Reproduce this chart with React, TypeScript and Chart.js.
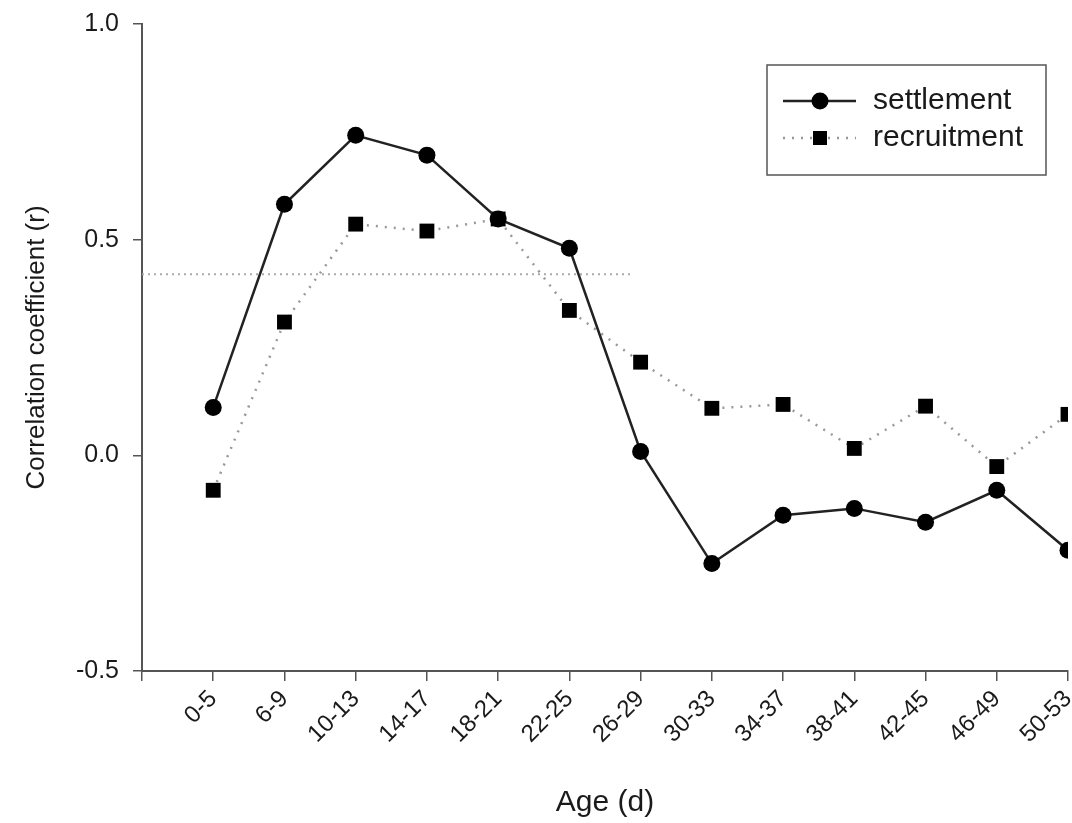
import React, { useEffect, useRef } from "react";
import { Chart, registerables } from "chart.js";

Chart.register(...registerables);

const ageClasses = ["0-5", "6-9", "10-13", "14-17", "18-21", "22-25", "26-29", "30-33", "34-37", "38-41", "42-45", "46-49", "50-53"];
const settlement = [0.111, 0.582, 0.742, 0.696, 0.548, 0.48, 0.009, -0.251, -0.139, -0.123, -0.155, -0.081, -0.22];
const recruitment = [-0.081, 0.309, 0.536, 0.52, 0.548, 0.336, 0.216, 0.109, 0.118, 0.016, 0.114, -0.026, 0.095];
const yTickValues = [-0.5, 0.0, 0.5, 1.0];
const refLevel = 0.42;
const refSpan = [-1, 5.9];

const FONT = '"Liberation Sans", Arial, Helvetica, sans-serif';
const TEXT = "#1a1a1a";
const AXIS = "#555";

const legendPlugin = {
  id: "boxLegend",
  afterDraw(chart: any) {
    const ctx = chart.ctx;
    const a = chart.chartArea;
    const x0 = a.right - 301;
    const y0 = a.top + 41;
    const w = 279;
    const h = 110;
    ctx.save();
    ctx.strokeStyle = AXIS;
    ctx.lineWidth = 1.5;
    ctx.strokeRect(x0, y0, w, h);
    [0, 1].forEach((i) => {
      const ds = chart.data.datasets[i];
      const y = y0 + 36 + i * 37;
      ctx.beginPath();
      ctx.setLineDash(ds.borderDash || []);
      ctx.strokeStyle = ds.borderColor;
      ctx.lineWidth = ds.borderWidth;
      ctx.moveTo(x0 + 16, y);
      ctx.lineTo(x0 + 89, y);
      ctx.stroke();
      ctx.setLineDash([]);
      ctx.fillStyle = ds.pointBackgroundColor;
      if (ds.pointStyle === "rect") {
        const s = 7;
        ctx.fillRect(x0 + 53 - s, y - s, 2 * s, 2 * s);
      } else {
        ctx.beginPath();
        ctx.arc(x0 + 53, y, 8.5, 0, Math.PI * 2);
        ctx.fill();
      }
      ctx.fillStyle = TEXT;
      ctx.font = "30px " + FONT;
      ctx.textBaseline = "middle";
      ctx.textAlign = "left";
      ctx.fillText(ds.label, x0 + 106, y);
    });
    ctx.restore();
  },
};

export default function App() {
  const ref = useRef<HTMLCanvasElement>(null);

  useEffect(() => {
    if (!ref.current) return;
    const chart = new Chart(ref.current, {
      type: "line",
      data: {
        datasets: [
          {
            label: "settlement",
            data: settlement.map((v, i) => ({ x: i, y: v })),
            borderColor: "#222",
            borderWidth: 2.5,
            pointStyle: "circle",
            pointRadius: 8.5,
            pointBackgroundColor: "#000",
            pointBorderColor: "#000",
            pointBorderWidth: 0,
            tension: 0,
          },
          {
            label: "recruitment",
            data: recruitment.map((v, i) => ({ x: i, y: v })),
            borderColor: "#999",
            borderWidth: 2.5,
            borderDash: [2, 7],
            pointStyle: "rect",
            pointRadius: 10.5,
            pointBackgroundColor: "#000",
            pointBorderColor: "#000",
            pointBorderWidth: 0,
            tension: 0,
          },
          {
            label: "ref",
            data: refSpan.map((x) => ({ x, y: refLevel })),
            borderColor: "#aaa",
            borderWidth: 2,
            borderDash: [2, 4],
            pointRadius: 0,
            tension: 0,
          },
        ],
      } as any,
      options: {
        animation: false,
        responsive: false,
        events: [],
        layout: { autoPadding: false, padding: { left: 0, top: 24, right: 4, bottom: 0 } },
        plugins: {
          legend: { display: false },
          tooltip: { enabled: false },
        },
        scales: {
          x: {
            type: "linear",
            min: -1,
            max: ageClasses.length - 1,
            afterBuildTicks: (scale: any) => {
              scale.ticks = [-1, ...ageClasses.map((_, i) => i)].map((v) => ({ value: v }));
            },
            afterFit: (scale: any) => {
              scale.height = 152;
              scale.paddingLeft = 0;
              scale.paddingRight = 0;
            },
            ticks: {
              autoSkip: false,
              minRotation: 45,
              maxRotation: 45,
              padding: 4,
              color: TEXT,
              font: { family: FONT, size: 24 },
              callback: (v: any) => (ageClasses[v as number] ?? ""),
            },
            grid: {
              drawOnChartArea: false,
              drawTicks: true,
              tickLength: 10,
              color: AXIS,
              lineWidth: 1.5,
            },
            border: { display: true, color: AXIS, width: 2 },
            title: {
              display: true,
              text: "Age (d)",
              color: TEXT,
              font: { family: FONT, size: 30 },
              padding: { top: 0, bottom: 2 },
            },
          },
          y: {
            type: "linear",
            min: -0.5,
            max: 1.0,
            afterBuildTicks: (scale: any) => {
              scale.ticks = yTickValues.map((v) => ({ value: v }));
            },
            afterFit: (scale: any) => {
              scale.width = 142;
              scale.paddingTop = 0;
              scale.paddingBottom = 0;
            },
            ticks: {
              padding: 14,
              color: TEXT,
              font: { family: FONT, size: 25 },
              callback: (v: any) => Number(v).toFixed(1),
            },
            grid: {
              drawOnChartArea: false,
              drawTicks: true,
              tickLength: 9,
              color: AXIS,
              lineWidth: 1.5,
            },
            border: { display: true, color: AXIS, width: 2 },
            title: {
              display: true,
              text: "Correlation coefficient (r)",
              color: TEXT,
              font: { family: FONT, size: 26 },
              padding: { top: 21, bottom: 0 },
            },
          },
        },
      } as any,
      plugins: [legendPlugin],
    });
    return () => chart.destroy();
  }, []);

  return (
    <canvas
      ref={ref}
      width={1072}
      height={823}
      style={{ position: "absolute", left: 0, top: 0, width: 1072, height: 823, display: "block" }}
    />
  );
}
